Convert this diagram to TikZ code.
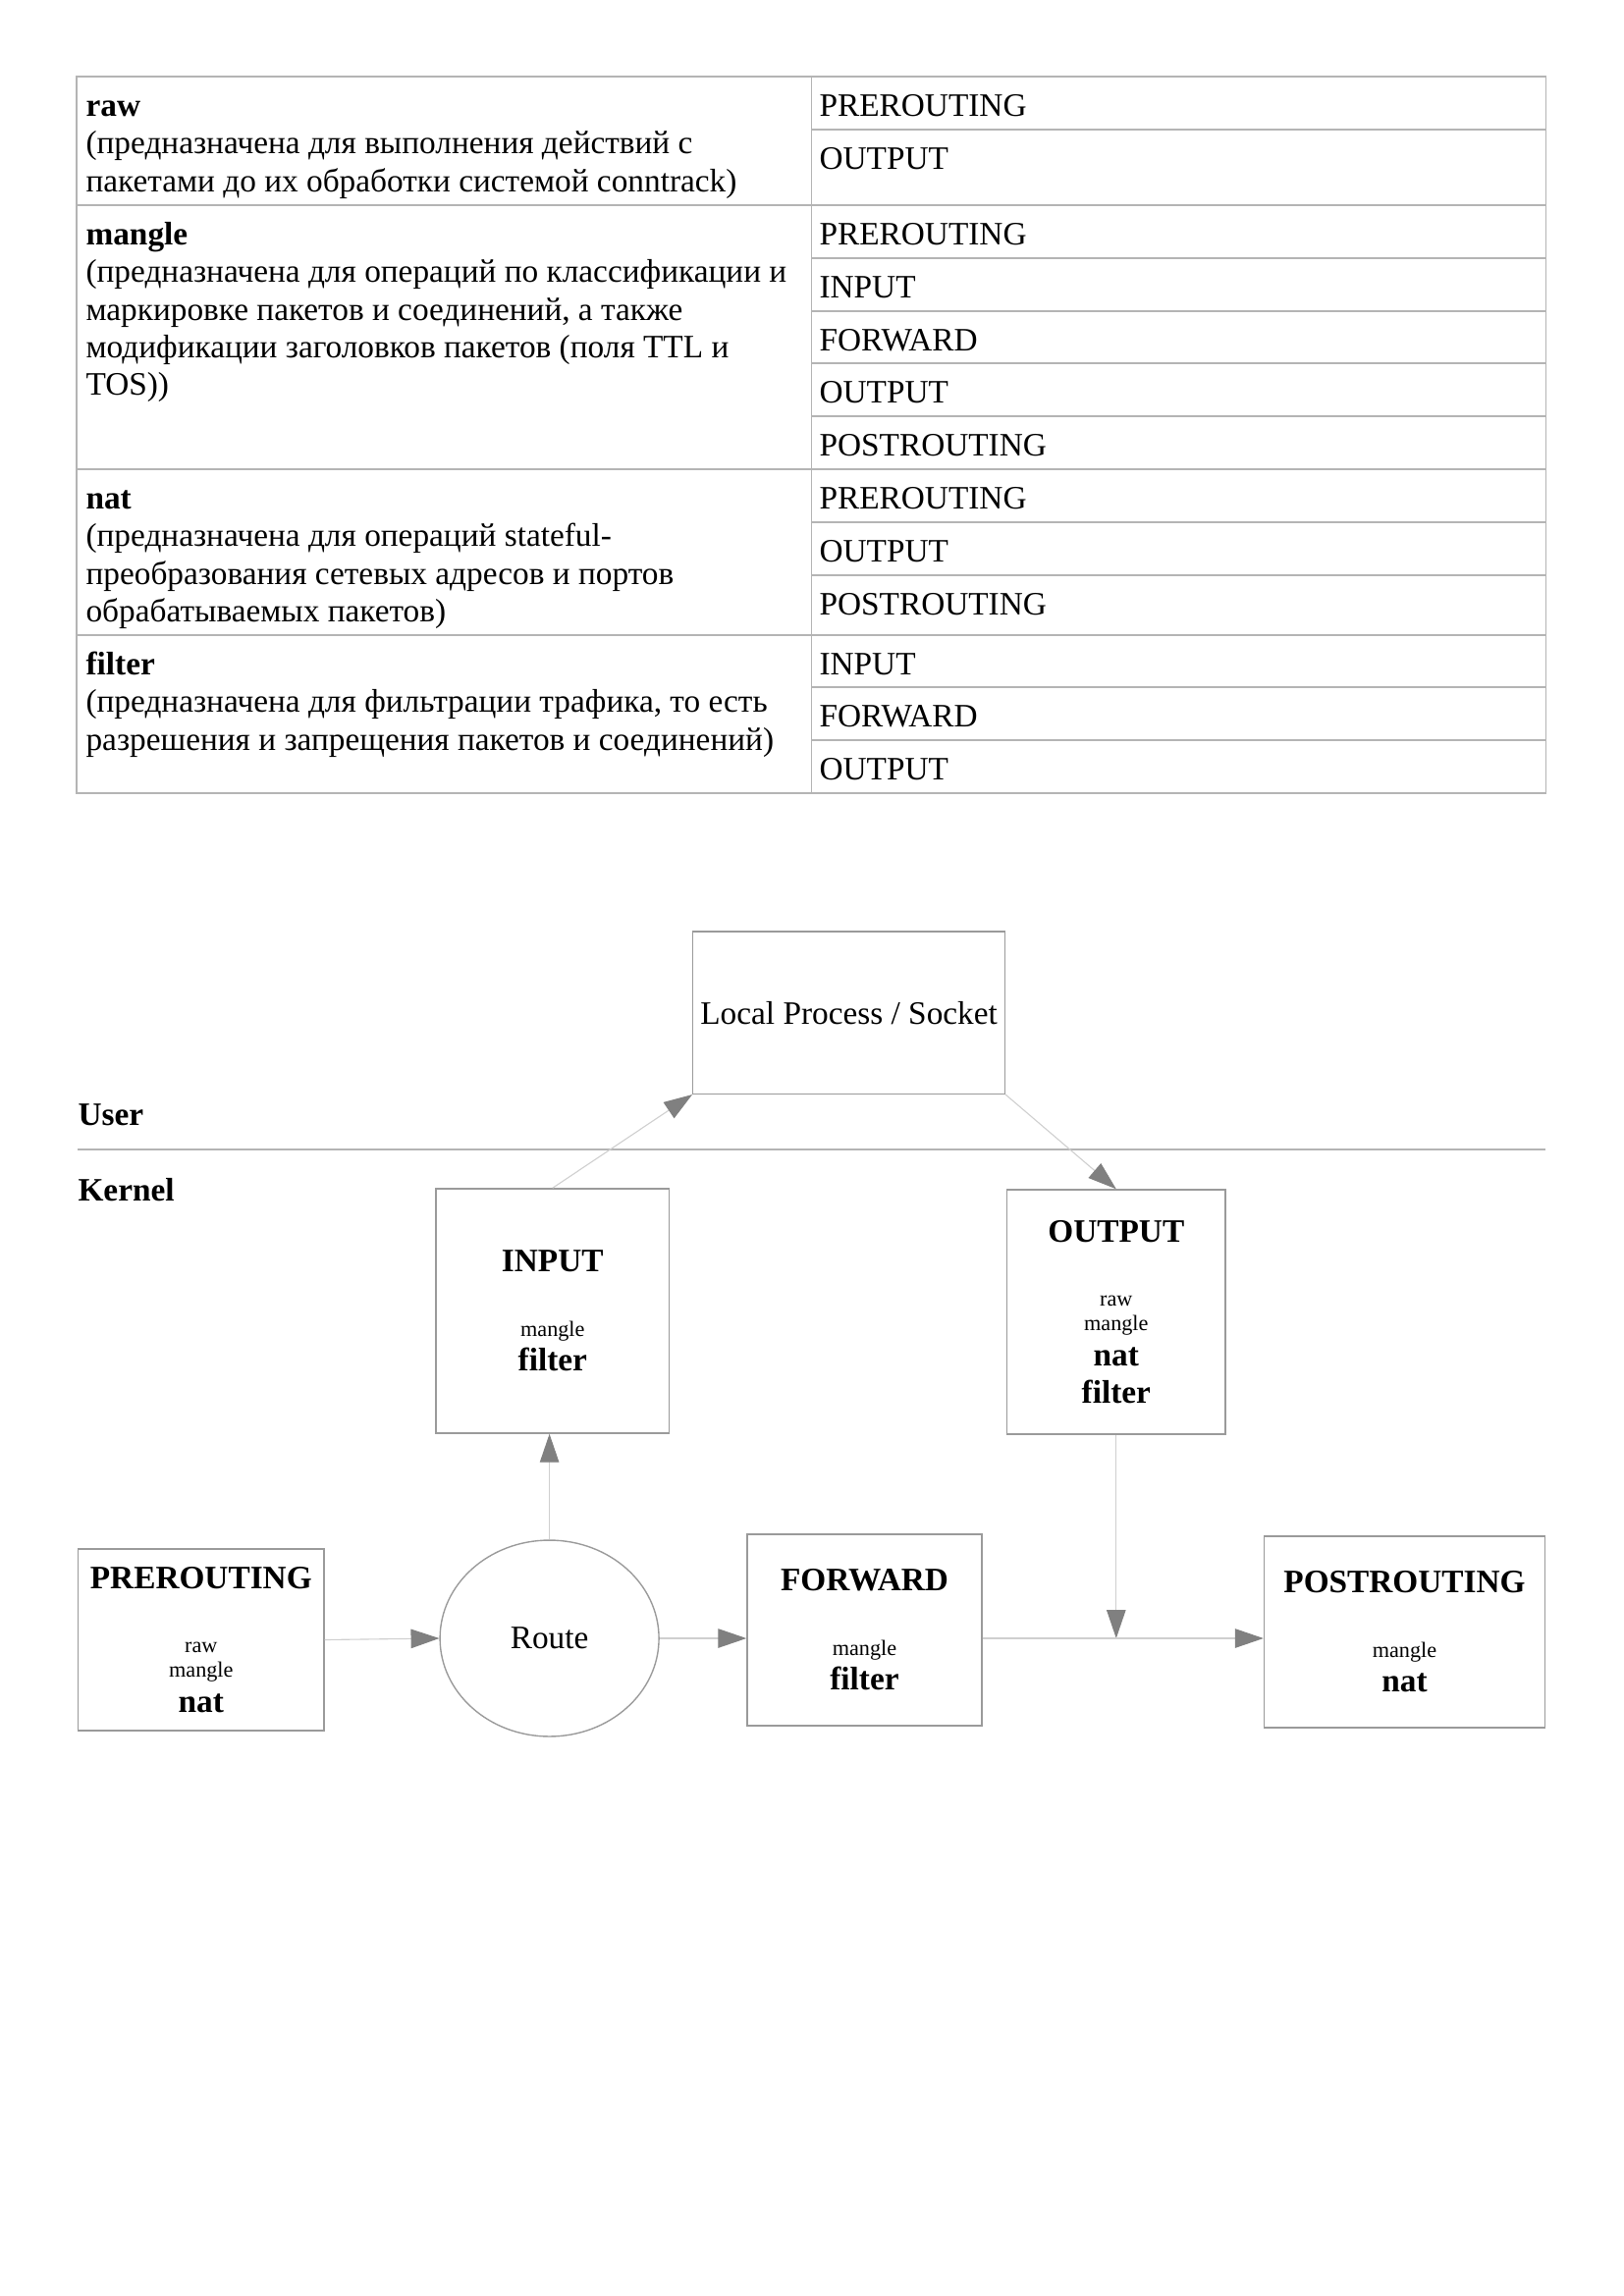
\documentclass[tikz,border=0pt]{standalone}
\usepackage{fontspec}
\setmainfont{Liberation Serif}
\usepackage{xcolor}
\usepackage{tikz}
\usetikzlibrary{positioning, shapes, arrows.meta, calc}

\definecolor{gridgray}{HTML}{B4B4B4}
\definecolor{boxgray}{HTML}{9A9A9A}
\definecolor{linkgray}{HTML}{CFCFCF}
\definecolor{tipgray}{HTML}{808080}

\newcommand{\tblname}[1]{{\fontsize{8}{9.2}\selectfont #1}}

\begin{document}
\begin{tikzpicture}[x=0.36013pt, y=-0.36013pt,
    every node/.style={font=\fontsize{12}{13.8}\selectfont},
    cell/.style={anchor=north west, inner sep=0pt, align=left},
    grid/.style={draw=gridgray, line width=0.4pt},
    chain/.style={draw=boxgray, line width=0.5pt, align=center, inner sep=0pt},
    link/.style={draw=linkgray, line width=0.4pt, -{Triangle[length=10.4pt, width=7pt, color=tipgray]}}]
      \useasboundingbox (0,0) rectangle (1653,2339);

      % Table frame
      \draw[grid] (78,78) rectangle (1574.5,808);
      \draw[grid] (826.5,78) -- (826.5,808);
      \draw[grid] (78,209) -- (1574.5,209);
      \draw[grid] (78,478) -- (1574.5,478);
      \draw[grid] (78,647) -- (1574.5,647);
      \draw[grid] (826.5,132) -- (1574.5,132);
      \draw[grid] (826.5,263) -- (1574.5,263);
      \draw[grid] (826.5,317) -- (1574.5,317);
      \draw[grid] (826.5,370) -- (1574.5,370);
      \draw[grid] (826.5,424) -- (1574.5,424);
      \draw[grid] (826.5,532) -- (1574.5,532);
      \draw[grid] (826.5,586) -- (1574.5,586);
      \draw[grid] (826.5,700) -- (1574.5,700);
      \draw[grid] (826.5,754) -- (1574.5,754);

      % Tables (left column)
      \node[cell] (rawtab) at (87,91) {\strut\textbf{raw}\\
        (предназначена для выполнения действий с\\
        пакетами до их обработки системой conntrack)};
      \node[cell] (mangletab) at (87,222) {\strut\textbf{mangle}\\
        (предназначена для операций по классификации и\\
        маркировке пакетов и соединений, а также\\
        модификации заголовков пакетов (поля TTL и\\
        TOS))};
      \node[cell] (nattab) at (87,491) {\strut\textbf{nat}\\
        (предназначена для операций stateful-\\
        преобразования сетевых адресов и портов\\
        обрабатываемых пакетов)};
      \node[cell] (filtertab) at (87,660) {\strut\textbf{filter}\\
        (предназначена для фильтрации трафика, то есть\\
        разрешения и запрещения пакетов и соединений)};

      % Chains (right column)
      \node[cell] (rawpre) at (834,91) {\strut PREROUTING};
      \node[cell] (rawout) at (834,145) {\strut OUTPUT};
      \node[cell] (manglepre) at (834,222) {\strut PREROUTING};
      \node[cell] (manglein) at (834,276) {\strut INPUT};
      \node[cell] (manglefwd) at (834,330) {\strut FORWARD};
      \node[cell] (mangleout) at (834,383) {\strut OUTPUT};
      \node[cell] (manglepost) at (834,437) {\strut POSTROUTING};
      \node[cell] (natpre) at (834,491) {\strut PREROUTING};
      \node[cell] (natout) at (834,545) {\strut OUTPUT};
      \node[cell] (natpost) at (834,599) {\strut POSTROUTING};
      \node[cell] (filterin) at (834,660) {\strut INPUT};
      \node[cell] (filterfwd) at (834,713) {\strut FORWARD};
      \node[cell] (filterout) at (834,767) {\strut OUTPUT};

      % User / Kernel
      \node[anchor=base west, inner sep=0pt] (user) at (79,1146) {\textbf{User}};
      \node[anchor=base west, inner sep=0pt] (kernel) at (79,1223) {\textbf{Kernel}};
      \draw[draw=gridgray, line width=0.8pt] (79,1171) -- (1574,1171);

      % Process and chains
      \node[chain, minimum width=114.4pt, minimum height=59.6pt] (local) at (864.6,1031.6) {Local Process / Socket};
      \node[chain, minimum width=85.5pt, minimum height=89.7pt] (input) at (562.8,1335.5) {\textbf{INPUT}\\[9.8pt]\tblname{mangle}\\[-1pt]\textbf{filter}};
      \node[chain, minimum width=80.1pt, minimum height=89.7pt] (output) at (1136.8,1336.5) {\textbf{OUTPUT}\\[9.8pt]\tblname{raw}\\[-4.8pt]\tblname{mangle}\\[-1pt]\textbf{nat}\\\textbf{filter}};
      \node[chain, minimum width=90.2pt, minimum height=66.6pt] (prerouting) at (204.8,1670.5) {\textbf{PREROUTING}\\[9.8pt]\tblname{raw}\\[-4.8pt]\tblname{mangle}\\[-1pt]\textbf{nat}};
      \node[chain, ellipse, minimum width=80.3pt, minimum height=72pt] (route) at (559.6,1669) {Route};
      \node[chain, minimum width=86.1pt, minimum height=70.2pt] (forward) at (880.5,1660.5) {\textbf{FORWARD}\\[9.8pt]\tblname{mangle}\\[-1pt]\textbf{filter}};
      \node[chain, minimum width=103pt, minimum height=70.2pt] (postrouting) at (1430.5,1662.5) {\textbf{POSTROUTING}\\[9.8pt]\tblname{mangle}\\[-1pt]\textbf{nat}};

      % Arrows
      \draw[link] (prerouting.east) -- (route.west);
      \draw[link] (route.east) -- (route.east -| forward.west);
      \draw[link] (route.north) -- (route.north |- input.south);
      \draw[link] (input.north) -- (local.south west);
      \draw[link] (local.south east) -- (output.north);
      \coordinate (merge) at (output.south |- route.east);
      \draw[link] (output.south) -- (merge);
      \draw[link] (forward.east |- merge) -- (postrouting.west |- merge);
    \end{tikzpicture}
\end{document}
